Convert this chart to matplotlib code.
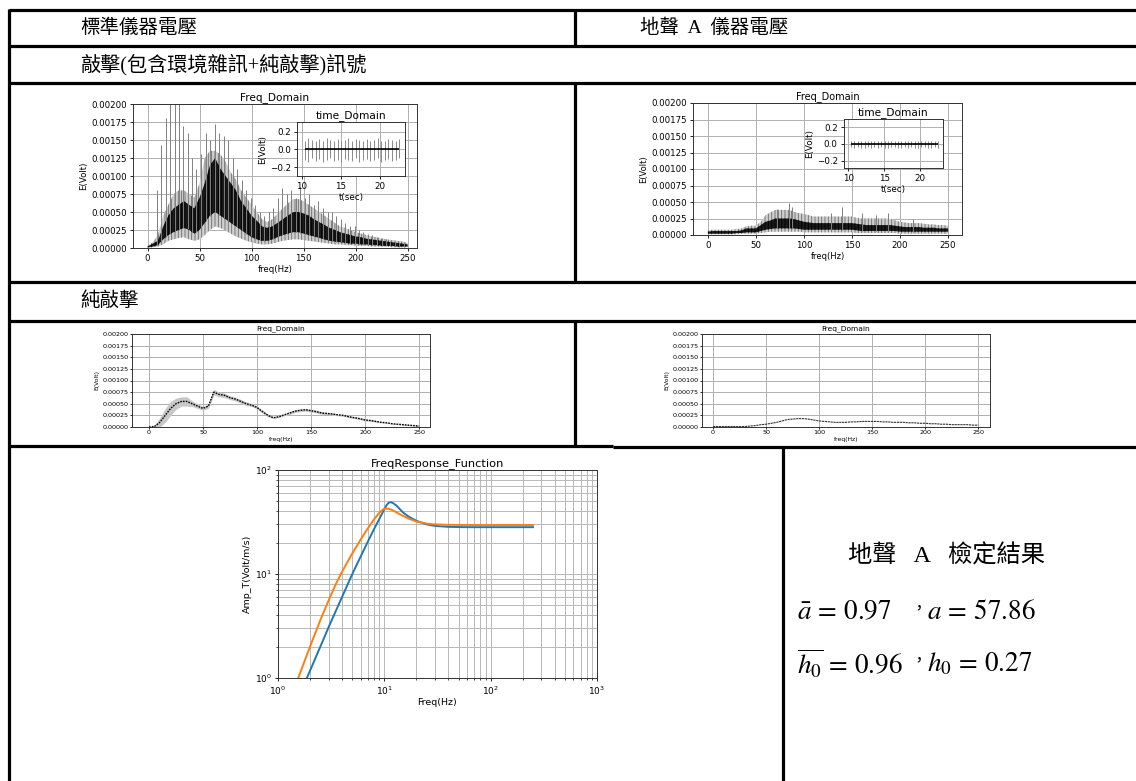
import numpy as np
import matplotlib.pyplot as plt

plt.rcParams['mathtext.fontset'] = 'stix'
plt.rcParams['hatch.linewidth'] = 0.6

W, H = 1136, 781
CJK = ['Liberation Serif', 'Noto Sans CJK TC']

# ---- spectra, sampled every 5 Hz -------------------------------------------
freq5 = np.arange(0, 251, 5)

# standard instrument, full record (grey floor / dense band bottom / dense top / grey fringe)
std_bot = [0.0, 0.00001, 0.00002, 0.00005, 0.0001, 0.00012, 0.00014, 0.00015, 0.00012, 0.0001,
           0.00012, 0.00018, 0.00025, 0.0003, 0.00028, 0.00024, 0.0002, 0.00016, 0.00013, 0.0001,
           0.00008, 0.00006, 0.00005, 0.00005, 0.00006, 0.00008, 0.0001, 0.00011, 0.00012, 0.00012,
           0.00011, 0.0001, 0.00009, 0.00008, 0.00007, 0.00006, 0.00005, 0.00005, 0.00004, 0.00004,
           0.00003, 0.00003, 0.00003, 0.00002, 0.00002, 0.00002, 0.00002, 0.00001, 0.00001, 0.00001, 0.00001]
std_lo = [0.00001, 0.00002, 0.00004, 0.00012, 0.00018, 0.00022, 0.00025, 0.00028, 0.00025, 0.0002,
          0.00025, 0.00035, 0.00045, 0.0005, 0.00045, 0.0004, 0.00035, 0.0003, 0.00025, 0.0002,
          0.00015, 0.00012, 0.0001, 0.0001, 0.00012, 0.00015, 0.00018, 0.0002, 0.00022, 0.00022,
          0.0002, 0.00018, 0.00016, 0.00014, 0.00012, 0.0001, 0.00009, 0.00008, 0.00007, 0.00006,
          0.00006, 0.00005, 0.00005, 0.00004, 0.00004, 0.00003, 0.00003, 0.00003, 0.00002, 0.00002, 0.00002]
std_hi = [0.00002, 0.00006, 0.0001, 0.0003, 0.00045, 0.00055, 0.0006, 0.00065, 0.0006, 0.00055,
          0.0007, 0.0009, 0.00115, 0.00125, 0.0011, 0.001, 0.0009, 0.0008, 0.00065, 0.00055,
          0.00045, 0.00038, 0.0003, 0.00028, 0.0003, 0.00035, 0.0004, 0.00045, 0.0005, 0.0005,
          0.00048, 0.00045, 0.0004, 0.00036, 0.00032, 0.00028, 0.00025, 0.00022, 0.0002, 0.00018,
          0.00016, 0.00015, 0.00013, 0.00012, 0.00011, 0.0001, 0.00009, 0.00008, 0.00007, 0.00006, 0.00005]
std_top = [0.00003, 0.00008, 0.00018, 0.00045, 0.0006, 0.00075, 0.0008, 0.0008, 0.00075, 0.0007,
           0.0009, 0.00125, 0.00135, 0.00135, 0.0013, 0.0012, 0.00105, 0.00095, 0.0008, 0.0007,
           0.0006, 0.0005, 0.0004, 0.00036, 0.0004, 0.00048, 0.00055, 0.00062, 0.00068, 0.00068,
           0.00065, 0.0006, 0.00055, 0.0005, 0.00045, 0.0004, 0.00035, 0.0003, 0.00028, 0.00025,
           0.00022, 0.0002, 0.00018, 0.00016, 0.00015, 0.00013, 0.00012, 0.00011, 0.0001, 0.00009, 0.00007]

# hit harmonics standing out above the noise
std_spk_f = [9, 13, 17.5, 21.5, 26, 30, 34.5, 38.5, 43, 47, 51.5, 56, 60, 64.5, 69, 73, 77.5, 82,
             86, 90.5, 95, 99, 103.5, 108, 112, 116.5, 121, 125, 129.5, 134, 138, 142.5, 147, 151,
             155.5, 160, 164, 168.5, 173, 177, 181.5, 186, 190, 194.5, 199, 203, 207.5, 212, 216,
             220.5, 225, 229, 233.5, 238, 242, 246.5]
std_spk_e = [0.0008, 0.00143, 0.0018, 0.002, 0.002, 0.002, 0.0017, 0.0016, 0.00125, 0.0011,
             0.0013, 0.0016, 0.0015, 0.00172, 0.0016, 0.00155, 0.0015, 0.00125, 0.0011, 0.00095,
             0.0008, 0.0007, 0.0006, 0.0005, 0.00045, 0.0005, 0.00055, 0.0007, 0.00083, 0.00075,
             0.0008, 0.0007, 0.00085, 0.0007, 0.00075, 0.0006, 0.00065, 0.00055, 0.0005, 0.0005,
             0.00045, 0.0004, 0.00035, 0.0003, 0.0003, 0.00025, 0.00022, 0.0002, 0.00018, 0.00015,
             0.00014, 0.00012, 0.0001, 0.0001, 0.00009, 0.00008]

# geophone A, full record
geo_bot = [0.00001, 0.00001, 0.00001, 0.00001, 0.00001, 0.00001, 0.00001, 0.00002, 0.00002, 0.00002,
           0.00002, 0.00003, 0.00004, 0.00005, 0.00005, 0.00005, 0.00005, 0.00005, 0.00005, 0.00005,
           0.00004, 0.00004, 0.00004, 0.00004, 0.00004, 0.00004, 0.00004, 0.00004, 0.00004, 0.00004,
           0.00004, 0.00003, 0.00003, 0.00003, 0.00003, 0.00003, 0.00003, 0.00003, 0.00003, 0.00003,
           0.00002, 0.00002, 0.00002, 0.00002, 0.00002, 0.00002, 0.00002, 0.00002, 0.00002, 0.00002, 0.00002]
geo_lo = [0.00002, 0.00002, 0.00002, 0.00002, 0.00002, 0.00002, 0.00003, 0.00003, 0.00004, 0.00004,
          0.00004, 0.00006, 0.00008, 0.00009, 0.0001, 0.0001, 0.0001, 0.0001, 0.0001, 0.00009,
          0.00008, 0.00008, 0.00008, 0.00008, 0.00008, 0.00008, 0.00008, 0.00008, 0.00008, 0.00008,
          0.00008, 0.00007, 0.00006, 0.00006, 0.00006, 0.00006, 0.00006, 0.00006, 0.00006, 0.00006,
          0.00005, 0.00005, 0.00005, 0.00005, 0.00005, 0.00005, 0.00005, 0.00005, 0.00005, 0.00005, 0.00005]
geo_hi = [0.00005, 0.00006, 0.00006, 0.00006, 0.00006, 0.00006, 0.00006, 0.00007, 0.0001, 0.0001,
          0.0001, 0.00015, 0.0002, 0.00022, 0.00025, 0.00025, 0.00025, 0.00025, 0.00024, 0.00022,
          0.0002, 0.00019, 0.00018, 0.00018, 0.00018, 0.00018, 0.00018, 0.00018, 0.00018, 0.00018,
          0.00018, 0.00017, 0.00016, 0.00015, 0.00015, 0.00015, 0.00015, 0.00015, 0.00015, 0.00014,
          0.00013, 0.00012, 0.00012, 0.00012, 0.00012, 0.00011, 0.00011, 0.00011, 0.0001, 0.0001, 0.0001]
geo_top = [0.00007, 0.00008, 0.00008, 0.00008, 0.00008, 0.00008, 0.00009, 0.0001, 0.00013, 0.00014,
           0.00014, 0.0002, 0.0003, 0.00034, 0.00038, 0.00038, 0.00038, 0.00038, 0.00035, 0.00033,
           0.00032, 0.0003, 0.00028, 0.00028, 0.00028, 0.00028, 0.00028, 0.00028, 0.00028, 0.00028,
           0.00028, 0.00026, 0.00025, 0.00025, 0.00025, 0.00025, 0.00025, 0.00025, 0.00024, 0.00022,
           0.0002, 0.00019, 0.00018, 0.00018, 0.00018, 0.00017, 0.00016, 0.00016, 0.00015, 0.00015, 0.00014]
geo_spk_f = [72, 84, 88, 128, 140, 160, 175, 187, 213]
geo_spk_e = [0.0004, 0.00048, 0.00042, 0.00033, 0.00043, 0.00033, 0.0003, 0.00033, 0.00025]

# pure hit, standard instrument / geophone A
hit_std = [0.0, 0.00001, 0.0001, 0.00025, 0.0004, 0.0005, 0.00055, 0.00055, 0.0005, 0.00045,
           0.0004, 0.00045, 0.00075, 0.0007, 0.00068, 0.00063, 0.0006, 0.00055, 0.0005, 0.00047,
           0.00042, 0.00033, 0.00025, 0.0002, 0.00022, 0.00026, 0.0003, 0.00034, 0.00036, 0.00037,
           0.00035, 0.00033, 0.0003, 0.00029, 0.00028, 0.00026, 0.00025, 0.00022, 0.0002, 0.00018,
           0.00015, 0.00014, 0.00012, 0.0001, 0.00009, 0.00007, 0.00006, 0.00005, 0.00004, 0.00003, 0.00002]
hit_std_band = [0.0, 0.00002, 0.0001, 0.00015, 0.00015, 0.00012, 0.0001, 0.0001, 0.00006, 0.00005,
                0.00004, 0.00005, 0.00006, 0.00005, 0.00005, 0.00004, 0.00004, 0.00004, 0.00004, 0.00003,
                0.00003, 0.00003, 0.00003, 0.00002, 0.00002, 0.00002, 0.00003, 0.00003, 0.00003, 0.00003,
                0.00003, 0.00003, 0.00003, 0.00002, 0.00002, 0.00002, 0.00002, 0.00002, 0.00002, 0.00002,
                0.00002, 0.00002, 0.00002, 0.00001, 0.00001, 0.00001, 0.00001, 0.00001, 0.00001, 0.00001, 0.00001]
hit_geo = [0.00001, 0.00001, 0.00001, 0.00001, 0.00001, 0.00001, 0.00001, 0.00002, 0.00003, 0.00005,
           0.00006, 0.00008, 0.0001, 0.00013, 0.00016, 0.00017, 0.00018, 0.00018, 0.00017, 0.00015,
           0.00013, 0.00012, 0.00011, 0.0001, 0.0001, 0.0001, 0.00011, 0.00011, 0.00012, 0.00012,
           0.00012, 0.00012, 0.00011, 0.00011, 0.0001, 0.0001, 0.0001, 0.00009, 0.00009, 0.00008,
           0.00008, 0.00007, 0.00007, 0.00006, 0.00006, 0.00005, 0.00005, 0.00005, 0.00005, 0.00004, 0.00004]

# ---- time-domain insets ----------------------------------------------------
std_t = [10.4, 10.86, 11.33, 11.79, 12.26, 12.72, 13.19, 13.65, 14.12, 14.58, 15.05, 15.51, 15.98,
         16.44, 16.91, 17.37, 17.84, 18.3, 18.77, 19.23, 19.7, 20.16, 20.63, 21.09, 21.56, 22.02, 22.49]
std_pos = [0.10, 0.13, 0.11, 0.09, 0.12, 0.10, 0.13, 0.11, 0.10, 0.12, 0.09, 0.11, 0.13, 0.10,
           0.12, 0.11, 0.09, 0.12, 0.10, 0.11, 0.13, 0.10, 0.09, 0.12, 0.11, 0.10, 0.12]
std_neg = [-0.12, -0.14, -0.10, -0.13, -0.11, -0.14, -0.12, -0.10, -0.13, -0.12, -0.14, -0.11, -0.12,
           -0.13, -0.10, -0.14, -0.12, -0.11, -0.13, -0.12, -0.10, -0.14, -0.12, -0.11, -0.13, -0.12, -0.10]
geo_t = std_t
geo_pos = [0.03, 0.04, 0.03, 0.035, 0.04, 0.03, 0.035, 0.03, 0.04, 0.03, 0.035, 0.04, 0.03, 0.03,
           0.04, 0.035, 0.03, 0.04, 0.03, 0.035, 0.04, 0.03, 0.03, 0.04, 0.035, 0.03, 0.04]
geo_neg = [-0.04, -0.05, -0.04, -0.045, -0.05, -0.04, -0.045, -0.04, -0.05, -0.04, -0.045, -0.05,
           -0.04, -0.04, -0.05, -0.045, -0.04, -0.05, -0.04, -0.045, -0.05, -0.04, -0.04, -0.05,
           -0.045, -0.04, -0.05]

# ---- frequency response ----------------------------------------------------
frf_f_std = [1.87, 2.5, 3, 4, 5, 6, 7, 8, 9, 10, 10.5, 11, 11.5, 12, 13, 15, 17, 20, 25, 30, 40,
             60, 100, 250]
frf_std = [1.0, 2.0, 3.1, 6.0, 10.0, 14.8, 20.5, 27, 34, 42, 46, 48.5, 49, 48.3, 45.5, 39, 35.5,
           32.5, 30, 29, 28.4, 28.2, 28.2, 28.2]
frf_f_geo = [1.55, 2, 2.5, 3, 3.5, 4, 5, 6, 7, 8, 9, 10, 11, 12, 14, 17, 20, 25, 30, 40, 60, 100, 250]
frf_geo = [1.0, 2.0, 3.6, 5.6, 8.0, 10.5, 15.8, 21.5, 27.5, 33.5, 39, 42.5, 42.5, 41, 37.5, 34, 32,
           30.5, 30, 29.7, 29.6, 29.6, 29.6]

fig = plt.figure(figsize=(W / 100, H / 100), dpi=100)


def px_axes(x0, y0, x1, y1):
    return fig.add_axes([x0 / W, 1 - y1 / H, (x1 - x0) / W, (y1 - y0) / H])


def style(ax, tick_fs, lab_fs, title_fs, title, xlabel, ylabel):
    ax.grid(True, color='#b0b0b0', lw=0.7)
    ax.set_axisbelow(True)
    ax.tick_params(labelsize=tick_fs, length=2.5, width=0.6, pad=2)
    for s in ax.spines.values():
        s.set_linewidth(0.7)
        s.set_color('#333333')
    ax.set_title(title, fontsize=title_fs, pad=3)
    ax.set_xlabel(xlabel, fontsize=lab_fs, labelpad=1)
    ax.set_ylabel(ylabel, fontsize=lab_fs, labelpad=2)


def spectrum(ax, bot, lo, hi, top, spk_f, spk_e, xlim, fs):
    # grey noise fringe with a vertical texture, dense black core on top
    ax.fill_between(freq5, bot, top, facecolor='#cfcfcf', edgecolor='#6a6a6a',
                    hatch='|||||', lw=0)
    ax.vlines(spk_f, np.interp(spk_f, freq5, lo), spk_e, color='#808080', lw=0.7)
    ax.fill_between(freq5, lo, hi, facecolor='#1a1a1a', edgecolor='#000000',
                    hatch='|||||', lw=0)
    ax.set_xlim(*xlim)
    ax.set_ylim(0, 0.002)
    ax.set_xticks([0, 50, 100, 150, 200, 250])
    ax.set_yticks(np.arange(0, 0.00201, 0.00025))
    ax.yaxis.set_major_formatter(plt.FormatStrFormatter('%.5f'))
    style(ax, fs[0], fs[1], fs[2], 'Freq_Domain', 'freq(Hz)', 'E(Volt)')


def inset(ax, t, pos, neg, xlim, ylim):
    ax.vlines(t, neg, pos, color='#8a8a8a', lw=0.7)
    ax.hlines(0, t[0], t[-1], color='k', lw=1.2)
    ax.set_xlim(*xlim)
    ax.set_ylim(*ylim)
    ax.set_xticks([10, 15, 20])
    ax.set_yticks([-0.2, 0.0, 0.2])
    style(ax, 6.3, 6.3, 7.6, 'time_Domain', 't(sec)', 'E(Volt)')


# standard instrument, full record
ax1 = px_axes(133, 104, 417, 248)
spectrum(ax1, std_bot, std_lo, std_hi, std_top, std_spk_f, std_spk_e, (-14, 259), (6.2, 6.2, 7.6))
in1 = px_axes(297, 122, 405, 176)
inset(in1, std_t, std_pos, std_neg, (9.4, 23.2), (-0.3, 0.31))

# geophone A, full record
ax2 = px_axes(693, 103, 962, 235)
spectrum(ax2, geo_bot, geo_lo, geo_hi, geo_top, geo_spk_f, geo_spk_e, (-15.5, 264.5), (6.2, 6.0, 7.0))
in2 = px_axes(844, 119, 943, 168)
inset(in2, geo_t, geo_pos, geo_neg, (9.4, 23.2), (-0.29, 0.3))

# pure hit spectra
for box, vals, band, xl in [((132, 334, 430, 427), hit_std, hit_std_band, (-15.7, 260)),
                            ((702, 334, 990, 427), hit_geo, None, (-10.4, 261))]:
    ax = px_axes(*box)
    if band is not None:
        ax.fill_between(freq5, np.array(vals) - np.array(band), np.array(vals) + np.array(band),
                        color='#c8c8c8', lw=0)
        ax.plot(freq5, vals, color='k', lw=1.0, ls=(0, (1.2, 0.8)))
    else:
        ax.plot(freq5, vals, color='#333333', lw=0.8, ls=(0, (2, 0.6)))
    ax.set_xlim(*xl)
    ax.set_ylim(0, 0.002)
    ax.set_xticks([0, 50, 100, 150, 200, 250])
    ax.set_yticks(np.arange(0, 0.00201, 0.00025))
    ax.yaxis.set_major_formatter(plt.FormatStrFormatter('%.5f'))
    style(ax, 4.6, 4.3, 5.4, 'Freq_Domain', 'freq(Hz)', 'E(Volt)')
    ax.title.set_position((0.5, 0.97))
    ax.tick_params(length=1.5, pad=1)

# frequency response function
ax5 = px_axes(278, 470, 597, 678)
ax5.loglog(frf_f_std, frf_std, color='#1f77b4', lw=1.4)
ax5.loglog(frf_f_geo, frf_geo, color='#ff7f0e', lw=1.4)
ax5.set_xlim(1, 1000)
ax5.set_ylim(1, 100)
style(ax5, 6.5, 6.8, 8.2, 'FreqResponse_Function', 'Freq(Hz)', 'Amp_T(Volt/m/s)')
ax5.grid(True, which='both', color='#b8b8b8', lw=0.7)
ax5.tick_params(which='minor', length=1.5, width=0.5)

# table frame and texts, drawn in pixel space
top = fig.add_axes([0, 0, 1, 1], zorder=10)
top.set_xlim(0, W)
top.set_ylim(H, 0)
top.axis('off')
top.patch.set_alpha(0)

lw = 2.3
for y in [9.5, 46, 83, 282, 321]:
    top.plot([9, W], [y, y], color='k', lw=lw, solid_capstyle='butt')
top.plot([9, 613], [445.5, 445.5], color='k', lw=lw, solid_capstyle='butt')
top.plot([613, W], [447, 447], color='k', lw=lw, solid_capstyle='butt')
top.plot([9.3, 9.3], [8.5, H], color='k', lw=lw, solid_capstyle='butt')
for y0, y1 in [(8.5, 46), (83, 282), (321, 446)]:
    top.plot([575, 575], [y0, y1], color='k', lw=lw, solid_capstyle='butt')
top.plot([783, 783], [447, H], color='k', lw=lw, solid_capstyle='butt')

top.text(80, 28, '標準儀器電壓', family=CJK, fontsize=14, va='center', ha='left')
top.text(640, 28, '地聲  A  儀器電壓', family=CJK, fontsize=14, va='center', ha='left')
top.text(80, 65, '敲擊(包含環境雜訊+純敲擊)訊號', family=CJK, fontsize=14.5, va='center', ha='left')
top.text(80, 301, '純敲擊', family=CJK, fontsize=14, va='center', ha='left')

top.text(947, 556, '地聲   A   檢定結果', family=CJK, fontsize=17.5, va='center', ha='center')
top.text(797, 612, r'$\bar{a}\, =\, 0.97$', fontsize=19.5, va='center', ha='left')
top.text(910, 609, '，', family=CJK, fontsize=12, va='center', ha='left')
top.text(927, 612, r'$a\, =\, 57.86$', fontsize=19.5, va='center', ha='left')
top.text(797, 664, r'$\overline{h_0}\, =\, 0.96$', fontsize=19.5, va='center', ha='left')
top.text(910, 661, '，', family=CJK, fontsize=12, va='center', ha='left')
top.text(927, 664, r'$h_0\, =\, 0.27$', fontsize=19.5, va='center', ha='left')

fig.savefig('out.png', dpi=100)
